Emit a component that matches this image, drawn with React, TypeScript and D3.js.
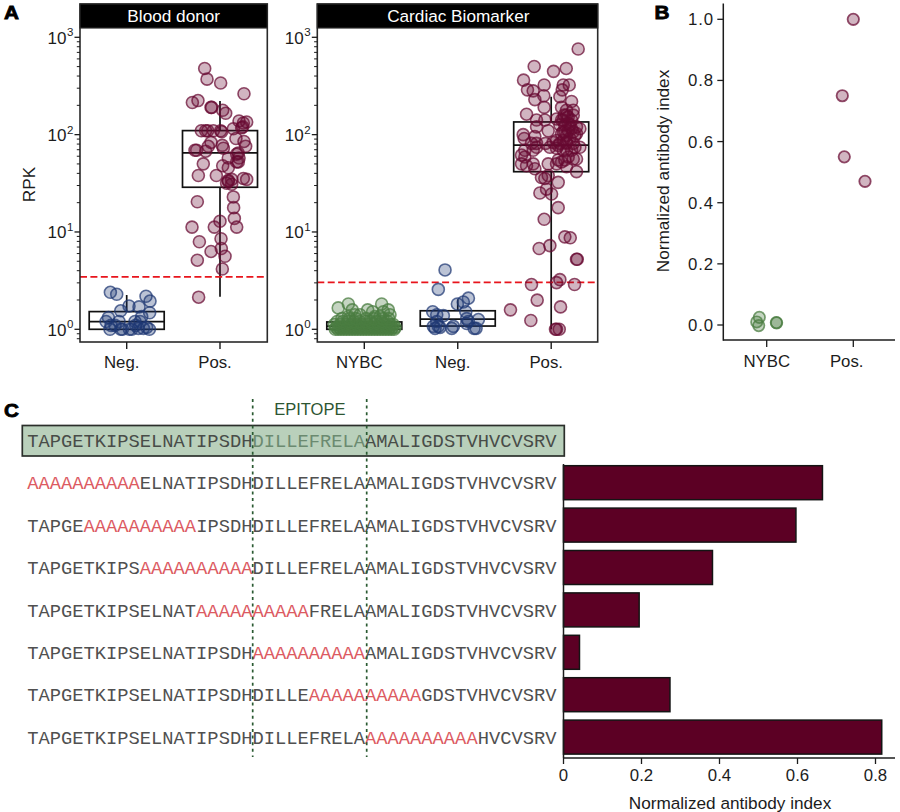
import React from "react";
import * as d3 from "d3";

// ---------- Panel A data: jitter (in category widths) and log10(RPK) ----------
const bloodNegJitter = [-.175,-.107,.207,.25,.025,.132,-.064,.246,-.196,-.221,.161,.089,-.082,-.179,-.064,-.046,.029,.125,.179,.243,-.168,.096,.143,-.125,.054,.214];
const bloodNegLog = [.38,.36,.34,.29,.24,.23,.19,.17,.12,.08,.13,.08,.08,0,0,0,0,.01,.01,0,.04,.04,.08,.04,0,.02];
const bloodPosJitter = [-.164,-.139,.007,.257,-.296,-.236,-.096,-.089,.029,.061,.204,.286,.25,.243,-.2,-.154,-.132,-.071,.007,.018,.143,.232,.171,.257,.275,-.096,-.125,-.268,-.25,-.154,.025,.036,.196,.179,.204,.179,.196,.089,-.179,.029,.089,-.232,-.039,.089,.125,.25,.286,.089,.125,.071,-.243,.143,.146,.154,.179,0,-.061,-.3,.011,-.221,.014,-.096,.054,-.243,.025,-.229];
const bloodPosLog = [2.68,2.57,2.53,2.42,2.33,2.35,2.28,2.28,2.25,2.22,2.14,2.13,2.12,2.08,2.04,2.04,2.04,2.04,2.04,2.03,2.06,2.07,1.96,1.93,1.88,1.92,1.88,1.84,1.84,1.83,1.89,1.86,1.81,1.8,1.76,1.72,1.72,1.76,1.7,1.68,1.66,1.58,1.58,1.53,1.54,1.55,1.54,1.52,1.49,1.5,1.31,1.36,1.25,1.14,1.05,1.11,1.05,1.05,.93,.9,.83,.8,.75,.71,.62,.33];

const cardiacNybcJitter = [-.279,-.171,-.129,-.1,.036,.089,.186,.257,.275,.204,-.171,-.046,.114,.168,
  -.31,-.28,-.25,-.22,-.19,-.16,-.13,-.1,-.07,-.04,-.01,.02,.05,.08,.11,.14,.17,.2,.23,.26,.29,.32,
  -.3,-.27,-.24,-.21,-.18,-.15,-.12,-.09,-.06,-.03,0,.03,.06,.09,.12,.15,.18,.21,.24,.27,.3,.33,
  -.32,-.26,-.2,-.14,-.08,-.02,.04,.1,.16,.22,.28,.31,
  -.29,-.23,-.17,-.11,-.05,.01,.07,.13,.19,.25,
  -.24,-.16,-.09,.02,.1,.2,.26];
const cardiacNybcLog = [.22,.26,.2,.15,.2,.18,.26,.2,.15,.18,.13,.15,.13,.13,
  0,0,0,0,0,0,0,0,0,0,0,0,0,0,0,0,0,0,0,0,0,0,
  .02,.02,.02,.02,.02,.02,.02,.02,.02,.02,.02,.02,.02,.02,.02,.02,.02,.02,.02,.02,.02,.02,
  .05,.05,.05,.05,.05,.05,.05,.05,.05,.05,.05,.05,
  .08,.08,.08,.08,.08,.08,.08,.08,.08,.08,
  .11,.11,.11,.11,.11,.11,.11];
const cardiacNegJitter = [-.136,-.208,.114,.06,-.004,-.268,-.225,-.154,.086,.096,.114,.221,-.261,-.208,-.047,-.064,.175,.196,.096,-.243,-.225,-.19];
const cardiacNegLog = [.61,.41,.32,.28,.26,.18,.15,.14,.18,.11,.08,.1,.03,.03,.03,.01,.01,.01,.06,.01,.08,.02];
const cardiacPosJitter = [.289,-.182,.025,.161,-.296,-.254,-.193,-.075,-.175,-.079,.129,.193,.118,.093,-.075,-.264,.218,.111,.236,.164,.139,.182,.236,-.157,-.068,.057,.111,.182,.271,.307,.146,-.3,-.157,-.032,.146,.236,-.289,-.175,.182,.271,.164,.129,-.061,.057,.093,.164,.236,.307,-.157,-.211,-.282,-.318,-.193,-.157,-.282,.129,.218,.271,.075,.111,-.032,.271,.164,-.318,-.193,-.264,-.175,-.104,-.068,-.032,.075,-.121,-.05,.004,.057,.164,.236,.129,.254,.2,-.014,.075,-.075,.146,.204,-.014,-.129,.279,.271,.093,.057,-.211,.25,-.15,.1,-.436,-.218,.046,.086,.057,.164,.129,.218,.093,.2,.111,.218,.164,.021,.075,.254,.182,.146,.057];
const cardiacPosLog = [2.88,2.7,2.65,2.68,2.56,2.46,2.45,2.51,2.36,2.4,2.51,2.51,2.46,2.39,2.28,2.21,2.34,2.28,2.25,2.25,2.2,2.18,2.2,2.15,2.15,2.16,2.15,2.12,2.08,2.06,2.1,2,2.08,2.04,2.03,2.03,1.96,1.98,2.04,2.01,1.99,2.03,1.91,1.94,1.91,1.92,1.91,1.87,1.91,1.91,1.84,1.79,1.84,1.87,1.77,1.84,1.84,1.75,1.74,1.72,1.7,1.62,1.67,1.7,1.7,1.68,1.65,1.56,1.55,1.58,1.51,1.4,1.44,1.39,1.86,1.84,1.75,1.94,1.99,1.96,1.87,1.25,1.13,.95,.94,.86,.83,.72,.72,.51,.48,.46,.46,.3,.23,.2,.09,0,0,0,2.2,2.15,2.15,2.1,2.1,2.01,2.06,1.91,1.92,1.89,1.87,1.77,1.74,1.7];

const bloodCategories = ["Neg.", "Pos."];
const cardiacCategories = ["NYBC", "Neg.", "Pos."];
// box summaries: [q1, median, q3, whiskerLow, whiskerHigh]
const bloodBoxes = [[1, 1.2, 1.52, 1, 2.25], [28.8, 65, 110, 2.16, 222]];
const cardiacBoxes = [[1, 1.08, 1.19, 1, 1.19], [1.08, 1.27, 1.55, 1.08, 2.03], [41.6, 78, 135, 1, 245]];
const bloodCutoff = 3.45;
const cardiacCutoff = 3.04;
const logTicks = [1, 10, 100, 1000];
const logExponents = ["0", "1", "2", "3"];
const minorLogTicks = [0.8, 0.9, 2, 3, 4, 5, 6, 7, 8, 9, 20, 30, 40, 50, 60, 70, 80, 90, 200, 300, 400, 500, 600, 700, 800, 900, 2000];

// ---------- Panel B data ----------
const bCategories = ["NYBC", "Pos."];
const bNybcJitter = [-.085, -.115, -.092, .111, .115];
const bNybcValues = [.025, .01, -.002, .008, .007];
const bPosJitter = [0, -.127, -.104, .135];
const bPosValues = [1, .75, .55, .47];
const bTicks = [0, .2, .4, .6, .8, 1];

// ---------- Panel C data ----------
const wildType = "TAPGETKIPSELNATIPSDHDILLEFRELAAMALIGDSTVHVCVSRV";
const mutantStarts = [0, 5, 10, 15, 20, 25, 30];
const mutantValues = [.664, .596, .382, .194, .041, .273, .816];
const cTicks = [0, .2, .4, .6, .8];
const cTickLabels = ["0", "0.2", "0.4", "0.6", "0.8"];

const SANS = "'Liberation Sans', Arial, sans-serif";
const MONO = "'Liberation Mono', 'Courier New', monospace";
const INK = "#1c1c1c";
const POS = { fill: "rgba(104,10,50,0.3)", stroke: "rgba(104,10,50,0.72)" };
const NEG = { fill: "rgba(30,55,115,0.3)", stroke: "rgba(30,55,115,0.72)" };
const GRN = { fill: "rgba(75,125,65,0.32)", stroke: "rgba(75,125,65,0.75)" };

const yLog = d3.scaleLog().domain([1, 1000]).range([329.3, 37.3]);
const FRAME_TOP = 4, STRIP_BOTTOM = 28, FRAME_BOTTOM = 342;

type Group = { jitter: number[]; logs: number[]; color: { fill: string; stroke: string } };

function LogPanel(props: {
  left: number; right: number; title: string; titleX: number;
  categories: string[]; centers: number[]; boxes: number[][]; groups: Group[]; cutoff: number; cutoffEnd: number;
}) {
  const { left, right, title, titleX, categories, centers, boxes, groups, cutoff, cutoffEnd } = props;
  const x = d3.scalePoint<string>().domain(categories).range([centers[0], centers[centers.length - 1]]);
  const step = centers[1] - centers[0];
  return (
    <g>
      {boxes.map((b, i) => {
        const cx = x(categories[i]) as number;
        const hw = 37.5;
        return (
          <g key={i} stroke="#111" fill="none" strokeWidth={1.7}>
            <line x1={cx} x2={cx} y1={yLog(b[2])} y2={yLog(b[4])} />
            <line x1={cx} x2={cx} y1={yLog(b[0])} y2={yLog(b[3])} />
            <rect x={cx - hw} width={hw * 2} y={yLog(b[2])} height={yLog(b[0]) - yLog(b[2])} />
            <line x1={cx - hw} x2={cx + hw} y1={yLog(b[1])} y2={yLog(b[1])} />
          </g>
        );
      })}
      <line x1={left} x2={cutoffEnd} y1={yLog(cutoff)} y2={yLog(cutoff)} stroke="#e8141c" strokeWidth={1.7} strokeDasharray="7 3.4" />
      {groups.map((g, gi) =>
        g.jitter.map((j, i) => (
          <circle key={gi + "-" + i} cx={(x(categories[gi]) as number) + j * step} cy={yLog(Math.pow(10, g.logs[i]))} r={6}
            fill={g.color.fill} stroke={g.color.stroke} strokeWidth={1.6} />
        ))
      )}
      <rect x={left} y={FRAME_TOP} width={right - left} height={FRAME_BOTTOM - FRAME_TOP} fill="none" stroke="#2a2a2a" strokeWidth={1.6} />
      <rect x={left} y={FRAME_TOP} width={right - left} height={STRIP_BOTTOM - FRAME_TOP} fill="#000" stroke="#2a2a2a" strokeWidth={1.2} />
      <text x={titleX} y={22} textAnchor="middle" fill="#fff" fontSize={17.2} fontFamily={SANS}>{title}</text>
      {logTicks.map((t, i) => (
        <g key={t}>
          <line x1={left - 5.5} x2={left} y1={yLog(t)} y2={yLog(t)} stroke={INK} strokeWidth={1.3} />
          <text x={left - 32.5} y={yLog(t) + 6.4} fontSize={17} fontFamily={SANS} fill={INK}>
            10<tspan fontSize={11.5} dy={-7.5} dx={0.5}>{logExponents[i]}</tspan>
          </text>
        </g>
      ))}
      {minorLogTicks.map((t) => (
        yLog(t) > STRIP_BOTTOM && yLog(t) < FRAME_BOTTOM ?
          <line key={t} x1={left - 3.2} x2={left} y1={yLog(t)} y2={yLog(t)} stroke={INK} strokeWidth={1} /> : null
      ))}
      {categories.map((c) => {
        const cx = x(c) as number;
        return (
          <g key={c}>
            <line x1={cx} x2={cx} y1={FRAME_BOTTOM} y2={FRAME_BOTTOM + 7} stroke={INK} strokeWidth={1.4} />
            <text x={cx - 5} y={368} textAnchor="middle" fontSize={16.8} fontFamily={SANS} fill={INK}>{c}</text>
          </g>
        );
      })}
    </g>
  );
}

function PanelB() {
  const y = d3.scaleLinear().domain([0, 1]).range([325, 19.3]);
  const x = d3.scalePoint<string>().domain(bCategories).range([766.7, 853.3]);
  const step = 86.6;
  const axisX = 723.3, axisY = 340;
  return (
    <g>
      {bNybcJitter.map((j, i) => (
        <circle key={"n" + i} cx={(x("NYBC") as number) + j * step} cy={y(bNybcValues[i])} r={5.7} fill={GRN.fill} stroke={GRN.stroke} strokeWidth={1.7} />
      ))}
      {bPosJitter.map((j, i) => (
        <circle key={"p" + i} cx={(x("Pos.") as number) + j * step} cy={y(bPosValues[i])} r={5.7} fill={POS.fill} stroke={POS.stroke} strokeWidth={1.8} />
      ))}
      <line x1={axisX} x2={axisX} y1={3.5} y2={axisY + 0.7} stroke={INK} strokeWidth={1.5} />
      <line x1={axisX} x2={895} y1={axisY} y2={axisY} stroke={INK} strokeWidth={1.5} />
      {bTicks.map((t) => (
        <g key={t}>
          <line x1={axisX - 6} x2={axisX} y1={y(t)} y2={y(t)} stroke={INK} strokeWidth={1.3} />
          <text x={714} y={y(t) + 6} textAnchor="end" fontSize={16.8} letterSpacing={0.9} fontFamily={SANS} fill={INK}>{t.toFixed(1)}</text>
        </g>
      ))}
      {bCategories.map((c, i) => (
        <g key={c}>
          <line x1={x(c) as number} x2={x(c) as number} y1={axisY} y2={axisY + 7} stroke={INK} strokeWidth={1.3} />
          <text x={(x(c) as number) - (i === 1 ? 6.6 : 0)} y={367} textAnchor="middle" fontSize={16.8} fontFamily={SANS} fill={INK}>{c}</text>
        </g>
      ))}
      <text transform="translate(668.5,171) rotate(-90)" textAnchor="middle" fontSize={17.2} fontFamily={SANS} fill={INK}>Normalized antibody index</text>
    </g>
  );
}

function Sequence(props: { y: number; start?: number; box?: boolean }) {
  const { y, start, box } = props;
  const common = { y, fontSize: 18.78, fontFamily: MONO };
  const X0 = 27.2;
  if (box) {
    return (
      <text {...common} x={X0} fill="#484c48" xmlSpace="preserve">
        {wildType.slice(0, 20)}
        <tspan fill="#6b8a70">{wildType.slice(20, 30)}</tspan>
        {wildType.slice(30)}
      </text>
    );
  }
  const s = start as number;
  return (
    <text {...common} x={X0} fill="#505050" xmlSpace="preserve">
      {wildType.slice(0, s)}
      <tspan fill="#dc5a62">{"A".repeat(10)}</tspan>
      {wildType.slice(s + 10)}
    </text>
  );
}

function PanelC() {
  const x = d3.scaleLinear().domain([0, .8]).range([563.5, 875.5]);
  const rows = d3.range(mutantValues.length).map(String);
  const y = d3.scaleBand().domain(rows).range([461.5, 758.3]).paddingInner(0.198).paddingOuter(0.099);
  const axisY = 758;
  return (
    <g>
      <rect x={22.3} y={425.5} width={542} height={30.5} fill="#b9d0bb" stroke="#2b2f2b" strokeWidth={1.7} />
      <Sequence y={446.5} box />
      {rows.map((r, i) => (
        <g key={r}>
          <Sequence y={(y(r) as number) + y.bandwidth() / 2 + 6.6} start={mutantStarts[i]} />
          <rect x={x(0)} y={y(r)} width={x(mutantValues[i]) - x(0)} height={y.bandwidth()} fill="#5c0024" stroke="#141414" strokeWidth={1.5} />
        </g>
      ))}
      <line x1={252.7} x2={252.7} y1={399} y2={757} stroke="#2a5a32" strokeWidth={1.7} strokeDasharray="3 3.6" />
      <line x1={366.7} x2={366.7} y1={399} y2={757} stroke="#2a5a32" strokeWidth={1.7} strokeDasharray="3 3.6" />
      <text x={309.8} y={415} textAnchor="middle" fontSize={16.5} fontFamily={SANS} fill="#2d5532">EPITOPE</text>
      <line x1={x(0)} x2={x(0)} y1={464} y2={axisY} stroke={INK} strokeWidth={1.5} />
      <line x1={x(0)} x2={895} y1={axisY} y2={axisY} stroke={INK} strokeWidth={1.5} />
      {cTicks.map((t, i) => (
        <g key={t}>
          <line x1={x(t)} x2={x(t)} y1={axisY} y2={axisY + 6} stroke={INK} strokeWidth={1.3} />
          <text x={x(t)} y={781} textAnchor="middle" fontSize={16.8} fontFamily={SANS} fill={INK}>{cTickLabels[i]}</text>
        </g>
      ))}
      <text x={730} y={808.5} textAnchor="middle" fontSize={17.2} fontFamily={SANS} fill={INK}>Normalized antibody index</text>
    </g>
  );
}

function Letter(props: { x: number; y: number; t: string }) {
  return <text transform={`translate(${props.x},${props.y}) scale(1.12,1)`} fontFamily={SANS} fontWeight={700} fontSize={18.5} fill="#000" stroke="#000" strokeWidth={0.8}>{props.t}</text>;
}

export default function App() {
  return (
    <svg width={900} height={812} viewBox="0 0 900 812" style={{ position: "absolute", left: 0, top: 0, background: "#fff" }}>
      <Letter x={4} y={19} t="A" />
      <Letter x={654.5} y={19} t="B" />
      <Letter x={4} y={417} t="C" />
      <text transform="translate(34.5,184.5) rotate(-90)" textAnchor="middle" fontSize={17.2} fontFamily={SANS} fill={INK}>RPK</text>
      <LogPanel left={80} right={267.3} title="Blood donor" titleX={173.7}
        categories={bloodCategories} centers={[126.7, 220]} boxes={bloodBoxes} cutoff={bloodCutoff} cutoffEnd={264}
        groups={[
          { jitter: bloodNegJitter, logs: bloodNegLog, color: NEG },
          { jitter: bloodPosJitter, logs: bloodPosLog, color: POS },
        ]} />
      <LogPanel left={317.3} right={597.7} title="Cardiac Biomarker" titleX={458.3}
        categories={cardiacCategories} centers={[364.3, 457.7, 551.2]} boxes={cardiacBoxes} cutoff={cardiacCutoff} cutoffEnd={597}
        groups={[
          { jitter: cardiacNybcJitter, logs: cardiacNybcLog, color: GRN },
          { jitter: cardiacNegJitter, logs: cardiacNegLog, color: NEG },
          { jitter: cardiacPosJitter, logs: cardiacPosLog, color: POS },
        ]} />
      <PanelB />
      <PanelC />
    </svg>
  );
}
